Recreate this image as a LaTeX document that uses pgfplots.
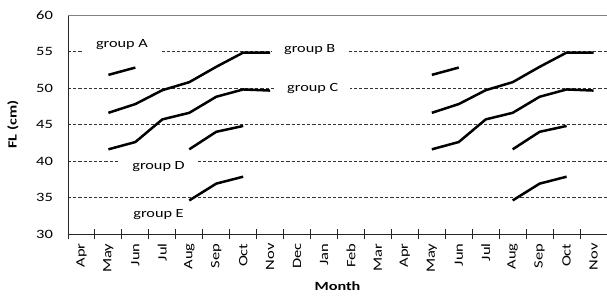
\documentclass[border=0pt]{standalone}
\usepackage{fontspec}
\setmainfont{Carlito}[FakeStretch=1.3]
\usepackage{pgfplots}
\pgfplotsset{compat=1.18}
\begin{document}
\begin{tikzpicture}
\begin{axis}[
  scale only axis, width=539pt, height=219pt,
  xmin=0.5, xmax=20.5, ymin=30, ymax=60,
  axis x line*=bottom, axis y line*=left,
  axis line style={black!85, line width=0.9pt},
  /pgf/number format/assume math mode=true,
  ytick={30,35,...,60},
  ymajorgrids,
  grid style={black!80, dash pattern=on 3.2pt off 2pt, line width=0.7pt},
  major tick length=0pt,
  xtick={1,...,20},
  xticklabels={Apr,May,Jun,Jul,Aug,Sep,Oct,Nov,Dec,Jan,Feb,Mar,Apr,May,Jun,Jul,Aug,Sep,Oct,Nov},
  minor xtick={0.5,1.5,...,20.5},
  minor tick length=10pt,
  tick align=center,
  minor tick style={black!85, line width=0.9pt},
  xticklabel style={yshift=-6pt, rotate=90, anchor=east, font=\fontsize{12.7}{14}\selectfont},
  yticklabel style={xshift=-11.5pt, font=\fontsize{12.7}{14}\selectfont},
  xlabel={\textbf{Month}},
  ylabel={\textbf{FL (cm)}},
  xlabel style={at={(axis description cs:0.5,-0.2374)}, anchor=center, font=\fontsize{12.5}{14}\selectfont},
  ylabel style={at={(axis description cs:-0.102,0.5)}, anchor=center, font=\fontsize{12.5}{14}\selectfont},
  clip=false,
]
\draw[black!50, line width=1pt] (rel axis cs:0,1) -- (rel axis cs:1,1);
% first cycle
\addplot[black, line width=2.5pt, line join=round] coordinates {(2,51.8)(3,52.8)};
\addplot[black, line width=2.5pt, line join=round] coordinates {(2,46.6)(3,47.8)(4,49.7)(5,50.8)(6,52.9)(7,54.85)(8,54.85)};
\addplot[black, line width=2.5pt, line join=round] coordinates {(2,41.6)(3,42.6)(4,45.7)(5,46.6)(6,48.8)(7,49.8)(8,49.65)};
\addplot[black, line width=2.5pt, line join=round] coordinates {(5,41.6)(6,44.0)(7,44.8)};
\addplot[black, line width=2.5pt, line join=round] coordinates {(5,34.6)(6,36.9)(7,37.85)};
% second cycle
\addplot[black, line width=2.5pt, line join=round] coordinates {(14,51.8)(15,52.8)};
\addplot[black, line width=2.5pt, line join=round] coordinates {(14,46.6)(15,47.8)(16,49.7)(17,50.8)(18,52.9)(19,54.85)(20,54.85)};
\addplot[black, line width=2.5pt, line join=round] coordinates {(14,41.6)(15,42.6)(16,45.7)(17,46.6)(18,48.8)(19,49.8)(20,49.65)};
\addplot[black, line width=2.5pt, line join=round] coordinates {(17,41.6)(18,44.0)(19,44.8)};
\addplot[black, line width=2.5pt, line join=round] coordinates {(17,34.6)(18,36.9)(19,37.85)};
% labels
\begin{scope}[every node/.style={fill=white, inner xsep=12pt, inner ysep=3pt, font=\fontsize{12.5}{14}\selectfont}]
\node at (axis cs:2.5,56) {group A};
\node at (axis cs:9.47,55.2) {group B};
\node at (axis cs:9.58,49.9) {group C};
\node at (axis cs:3.86,39.3) {group D};
\node at (axis cs:3.86,32.6) {group E};
\end{scope}
\end{axis}
\pgfresetboundingbox
\path (current axis.south west) ++(-68pt,-61pt) rectangle ++(607pt,295pt);
\end{tikzpicture}
\end{document}
